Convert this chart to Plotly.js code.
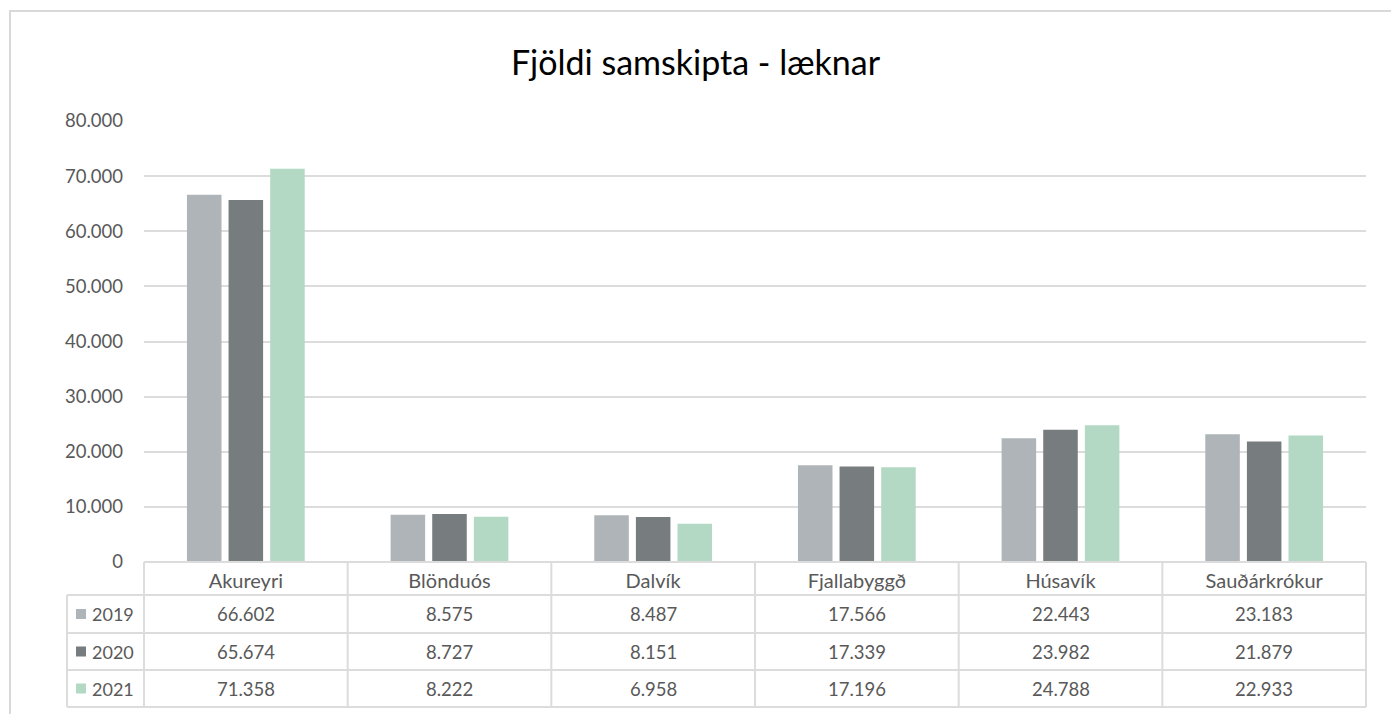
<!DOCTYPE html>
<html>
<head>
<meta charset="utf-8">
<script src="https://cdn.plot.ly/plotly-3.0.1.min.js"></script>
<style>html,body{margin:0;padding:0;background:#fff;}#chart{width:1391px;height:714px;}</style>
</head>
<body>
<div id="chart"></div>
<script>
// ---- data ----
const categories = ["Akureyri", "Blönduós", "Dalvík", "Fjallabyggð", "Húsavík", "Sauðárkrókur"];
const years = ["2019", "2020", "2021"];
const values2019 = [66602, 8575, 8487, 17566, 22443, 23183];
const values2020 = [65674, 8727, 8151, 17339, 23982, 21879];
const values2021 = [71358, 8222, 6958, 17196, 24788, 22933];
const seriesValues = [values2019, values2020, values2021];
const seriesColors = ["#AEB4B7", "#777D7F", "#B3D9C5"];
const yTickVals = [0, 10000, 20000, 30000, 40000, 50000, 60000, 70000, 80000];
const titleText = "Fjöldi samskipta - læknar";

// ---- geometry (pixels) ----
const W = 1391, H = 714;
const L = 144, R = 1366, T = 121, B = 562;
const pw = R - L, ph = B - T;
const px = x => (x - L) / pw;
const py = y => (B - y) / ph;
const FONT = "Lato, 'Open Sans', sans-serif";
const TXT = "#595959";
const LINE = "#DCDCDC";

function fmt(n) {
  return String(n).replace(/\B(?=(\d{3})+(?!\d))/g, ".");
}

const traces = years.map((yr, i) => ({
  type: "bar",
  name: yr,
  x: categories,
  y: seriesValues[i],
  marker: { color: seriesColors[i] },
  hoverinfo: "x+y+name"
}));

// table rows: header band 562-595, rows 595-633, 633-670, 670-707
const rowLines = [595, 633, 670, 707];
const rowCenters = [614, 651.5, 688.5];
const tableLeft = 67;

const shapes = [];
// outer chart border
shapes.push({ type: "rect", xref: "paper", yref: "paper", x0: px(10), x1: px(1400), y0: py(730), y1: py(11),
  line: { color: "#D9D9D9", width: 2 }, fillcolor: "rgba(0,0,0,0)", layer: "below" });
// top of header (axis line)
shapes.push({ type: "line", xref: "paper", yref: "paper", x0: 0, x1: 1, y0: 0, y1: 0, line: { color: LINE, width: 2 } });
rowLines.forEach(y => shapes.push({ type: "line", xref: "paper", yref: "paper", x0: px(tableLeft), x1: 1, y0: py(y), y1: py(y), line: { color: LINE, width: 2 } }));
for (let k = 0; k <= categories.length; k++) {
  shapes.push({ type: "line", xref: "paper", yref: "paper", x0: k / categories.length, x1: k / categories.length, y0: 0, y1: py(707), line: { color: LINE, width: 2 } });
}
shapes.push({ type: "line", xref: "paper", yref: "paper", x0: px(tableLeft), x1: px(tableLeft), y0: py(595), y1: py(707), line: { color: LINE, width: 2 } });

const annotations = [];
years.forEach((yr, i) => {
  // legend key square
  shapes.push({ type: "rect", xref: "paper", yref: "paper", x0: px(76), x1: px(86), y0: py(rowCenters[i] + 5), y1: py(rowCenters[i] - 5),
    line: { width: 0 }, fillcolor: seriesColors[i] });
  annotations.push({ xref: "paper", yref: "paper", x: px(90), y: py(rowCenters[i]), xanchor: "left", yanchor: "middle",
    text: yr, showarrow: false, font: { family: FONT, size: 18, color: TXT } });
  categories.forEach((c, j) => {
    annotations.push({ xref: "x", yref: "paper", x: c, y: py(rowCenters[i]), xanchor: "center", yanchor: "middle",
      text: fmt(seriesValues[i][j]), showarrow: false, font: { family: FONT, size: 18.5, color: TXT } });
  });
});

const layout = {
  width: W, height: H,
  margin: { l: L, r: W - R, t: T, b: H - B, pad: 0 },
  paper_bgcolor: "#fff", plot_bgcolor: "#fff",
  separators: ",.",
  title: { text: titleText, font: { family: FONT, size: 34, color: "#000" }, x: 0.5, xanchor: "center", y: 1 - 63 / H, yanchor: "middle" },
  showlegend: false,
  barmode: "group",
  bargap: 0.387,
  bargroupgap: 0.17,
  xaxis: { type: "category", categoryorder: "array", categoryarray: categories, showgrid: false, zeroline: false, showline: false,
    ticks: "", ticklabelstandoff: 5, tickfont: { family: FONT, size: 20, color: TXT }, fixedrange: true },
  yaxis: { range: [0, 80000], tickvals: yTickVals, tickformat: ",d", showgrid: true, gridcolor: LINE, gridwidth: 2,
    zeroline: false, showline: false, ticks: "", ticklabelstandoff: 20, tickfont: { family: FONT, size: 18.5, color: TXT }, fixedrange: true },
  shapes: shapes,
  annotations: annotations
};

Plotly.newPlot("chart", traces, layout, { displayModeBar: false, staticPlot: true });
</script>
</body>
</html>
